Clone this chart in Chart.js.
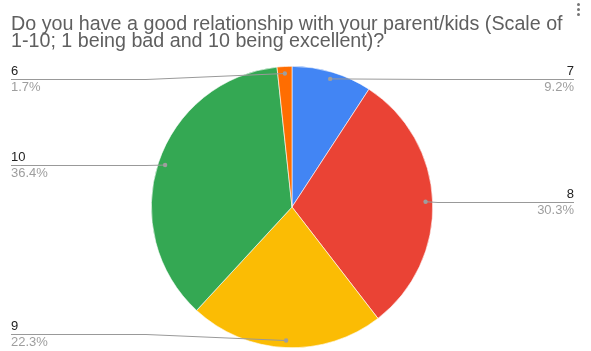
<!DOCTYPE html>
<html>
<head>
<meta charset="utf-8">
<script src="https://cdn.jsdelivr.net/npm/chart.js@4.4.1/dist/chart.umd.min.js"></script>
<style>
html,body{margin:0;padding:0;background:#fff;}
#wrap{width:591px;height:351px;position:relative;}
</style>
</head>
<body>
<div id="wrap"><canvas id="c" width="591" height="351"></canvas></div>
<script>
const titleLines = ["Do you have a good relationship with your parent/kids (Scale of", "1-10; 1 being bad and 10 being excellent)?"];
const categories = ["7", "8", "9", "10", "6"];
const percentages = [9.2, 30.3, 22.3, 36.4, 1.7];
const pctLabels = ["9.2%", "30.3%", "22.3%", "36.4%", "1.7%"];
const sliceColors = ["#4285f4", "#ea4335", "#fbbc04", "#34a853", "#ff6d01"];

const FONT = "Arial, 'Liberation Sans', sans-serif";

const decorPlugin = {
  id: 'decor',
  afterDraw(chart) {
    const ctx = chart.ctx;
    ctx.save();
    // title, fitted to the reference width
    ctx.fillStyle = '#5f5f5f';
    ctx.font = '18px ' + FONT;
    const w = ctx.measureText(titleLines[0]).width;
    const size = 18 * 552 / w;
    ctx.font = size.toFixed(2) + 'px ' + FONT;
    ctx.textBaseline = 'alphabetic';
    ctx.textAlign = 'left';
    ctx.fillText(titleLines[0], 11, 29.5);
    ctx.fillText(titleLines[1], 11, 46.5);
    // menu dots
    ctx.fillStyle = '#757575';
    [4.5, 9.5, 14.5].forEach(y => { ctx.beginPath(); ctx.arc(578.5, y, 1.5, 0, Math.PI * 2); ctx.fill(); });
    // labels
    const meta = chart.getDatasetMeta(0);
    meta.data.forEach((arc, i) => {
      const p = arc.getProps(['x', 'y', 'startAngle', 'endAngle', 'outerRadius'], true);
      const mid = (p.startAngle + p.endAngle) / 2;
      const r = p.outerRadius * 0.95;
      const dx = p.x + Math.cos(mid) * r;
      const dy = p.y + Math.sin(mid) * r;
      const right = Math.cos(mid) >= 0;
      const ly = Math.min(334, Math.max(79, Math.round(dy))) + 0.5;
      const xEnd = right ? 574 : 11;
      const bend = right ? 438 : 146;
      ctx.strokeStyle = '#999999';
      ctx.lineWidth = 1;
      ctx.beginPath();
      ctx.moveTo(xEnd, ly);
      ctx.lineTo(bend, ly);
      ctx.lineTo(dx, dy);
      ctx.stroke();
      ctx.fillStyle = '#9e9e9e';
      ctx.beginPath(); ctx.arc(dx, dy, 2.2, 0, Math.PI * 2); ctx.fill();
      ctx.textAlign = right ? 'right' : 'left';
      ctx.font = '13px ' + FONT;
      ctx.fillStyle = '#222222';
      ctx.fillText(categories[i], xEnd, ly - 4.5);
      ctx.fillStyle = '#9e9e9e';
      ctx.fillText(pctLabels[i], xEnd, ly + 11.5);
    });
    ctx.restore();
  }
};

new Chart(document.getElementById('c'), {
  type: 'pie',
  data: {
    labels: categories,
    datasets: [{
      data: percentages,
      backgroundColor: sliceColors,
      borderColor: '#ffffff',
      borderWidth: 0.6
    }]
  },
  options: {
    responsive: false,
    animation: false,
    layout: { padding: { top: 66, bottom: 3, left: 151, right: 158 } },
    plugins: {
      legend: { display: false },
      title: { display: false },
      tooltip: { enabled: false }
    }
  },
  plugins: [decorPlugin]
});
</script>
</body>
</html>
